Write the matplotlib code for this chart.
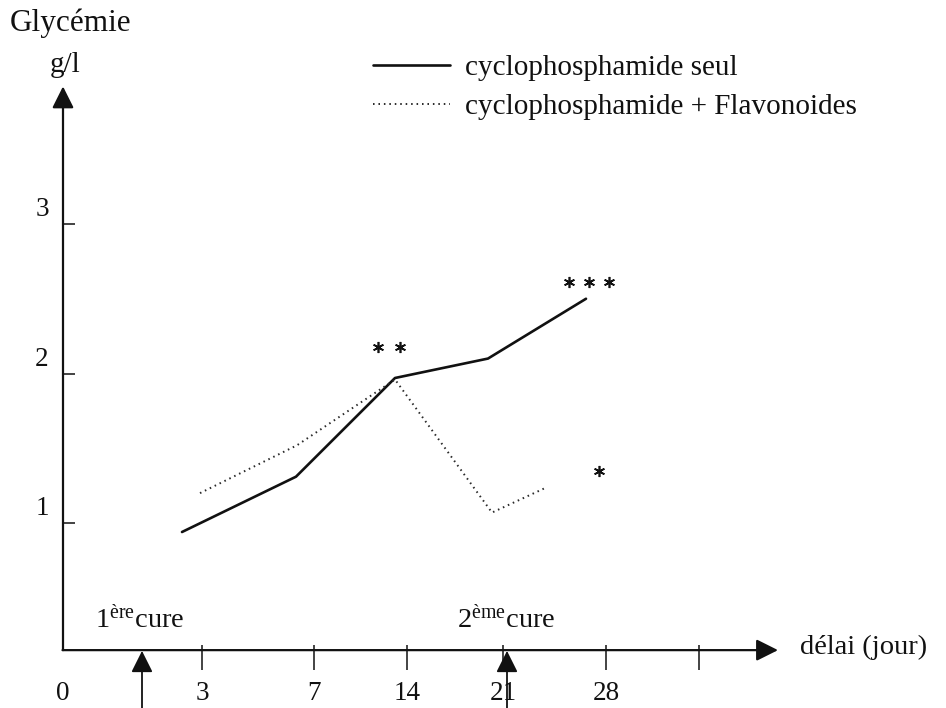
import matplotlib
matplotlib.use("Agg")
import matplotlib.pyplot as plt
from matplotlib.patches import ArrowStyle

plt.rcParams['font.family'] = ['Liberation Serif', 'DejaVu Serif']
plt.rcParams['mathtext.fontset'] = 'custom'
plt.rcParams['mathtext.rm'] = 'Liberation Serif'
plt.rcParams['mathtext.it'] = 'Liberation Serif:italic'

# ---------------- data ----------------
# x-axis tick slots (schematic, unevenly spaced in the original drawing)
tick_labels = ["3", "7", "14", "21", "28", ""]
tick_pos = [1.39, 2.51, 3.44, 4.40, 5.43, 6.36]
cure_pos = [0.79, 4.44]
cure_labels = ["1$^{\\mathrm{ère}}$cure", "2$^{\\mathrm{ème}}$cure"]

y_ticks = [1, 2, 3]

# cyclophosphamide seul
x_seul = [1.19, 2.33, 3.32, 4.25, 5.23]
y_seul = [0.94, 1.31, 1.97, 2.10, 2.50]

# cyclophosphamide + Flavonoides
x_flav = [1.37, 2.34, 3.32, 4.29, 4.84]
y_flav = [1.20, 1.52, 1.96, 1.07, 1.24]

# significance stars
star2_x = [3.15, 3.37]
star2_y = [2.18, 2.18]
star3_x = [5.06, 5.26, 5.46]
star3_y = [2.61, 2.61, 2.61]
star1_x = [5.36]
star1_y = [1.35]

# ---------------- figure ----------------
fig = plt.figure(figsize=(9.46, 7.08), dpi=100)
ax = fig.add_axes([0, 0, 1, 1])
ax.set_xlim(-0.63, 8.83)
ax.set_ylim(-0.237, 4.498)
ax.axis('off')

ink = '#111111'
x_axis_y = 0.15
arrow = ArrowStyle('-|>', head_length=0.6, head_width=0.3)

# axes with arrows
ax.annotate('', xy=(0, 3.92), xytext=(0, x_axis_y),
            arrowprops=dict(arrowstyle=arrow, mutation_scale=22, lw=1.6,
                            color=ink, shrinkA=0, shrinkB=0))
ax.annotate('', xy=(7.15, x_axis_y), xytext=(-0.005, x_axis_y),
            arrowprops=dict(arrowstyle=arrow, mutation_scale=22, lw=1.6,
                            color=ink, shrinkA=0, shrinkB=0))

# x ticks
ax.vlines(tick_pos, 0.017, 0.184, color=ink, lw=1.1)
for p, lab in zip(tick_pos, tick_labels):
    ax.text(p, -0.137, lab, ha='center', va='center', fontsize=19.5, color=ink)
ax.text(0, -0.137, "0", ha='center', va='center', fontsize=19.5, color=ink)

# y ticks
ax.hlines(y_ticks, 0, 0.12, color=ink, lw=1.1)
for v in y_ticks:
    ax.text(-0.21, v + 0.095, str(v), ha='center', va='center', fontsize=19.5, color=ink)

# cure arrows
for p in cure_pos:
    ax.annotate('', xy=(p, 0.145), xytext=(p, -0.24),
                arrowprops=dict(arrowstyle=arrow, mutation_scale=22, lw=1.3,
                                color=ink, shrinkA=0, shrinkB=0))
ax.text(0.32, 0.30, cure_labels[0], ha='left', va='baseline', fontsize=20.5, color=ink)
ax.text(3.94, 0.30, cure_labels[1], ha='left', va='baseline', fontsize=20.5, color=ink)

# data lines
ax.plot(x_seul, y_seul, color=ink, lw=1.9, solid_capstyle='round',
        label='cyclophosphamide seul')
ax.plot(x_flav, y_flav, color='#2a2a2a', lw=1.4, linestyle=(0, (0.8, 2.0)),
        label='cyclophosphamide + Flavonoides')

# stars
star = (6, 2, 0)
for sx, sy in ((star2_x, star2_y), (star3_x, star3_y), (star1_x, star1_y)):
    ax.plot(sx, sy, ls='none', marker=star, ms=8, mew=1.2, color=ink)

# titles / labels
ax.text(-0.53, 4.345, "Glycémie", ha='left', va='center', fontsize=22.5, color=ink)
ax.text(0.02, 4.06, "g/l", ha='center', va='center', fontsize=21, color=ink)
ax.text(7.37, x_axis_y + 0.02, "délai (jour)", ha='left', va='center', fontsize=20.5, color=ink)

leg = ax.legend(loc='upper left', bbox_to_anchor=(373 / 946, 1 - 55 / 708),
                frameon=False, fontsize=21, handlelength=2.65, handletextpad=0.5,
                labelspacing=0.42, borderpad=0, borderaxespad=0)
for t in leg.get_texts():
    t.set_color(ink)

fig.savefig("out.png", dpi=100, facecolor='white')
